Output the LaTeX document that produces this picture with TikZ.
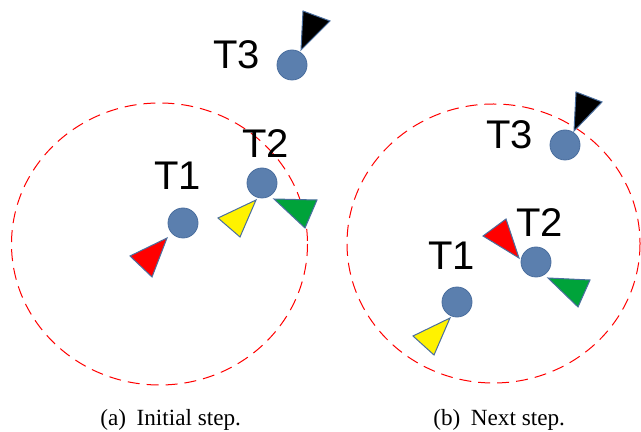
\documentclass[tikz,border=0pt]{standalone}
\usepackage{fontspec}
\setmainfont{Liberation Serif}
\newfontfamily\labfont{Liberation Sans}
\begin{document}
\begin{tikzpicture}[x=0.5pt,y=-0.5pt,
  agent/.style={circle,fill=agentblue,draw=agentedge,line width=0.4pt,minimum size=15pt,inner sep=0pt},
  lab/.style={anchor=base west,inner sep=0pt,font=\labfont\fontsize{20pt}{20pt}\selectfont},
  tri/.style={draw=agentedge,line width=0.5pt,line join=miter},
  rangeline/.style={draw=red,dash pattern=on 6pt off 3.5pt,line width=0.5pt},
  captext/.style={anchor=base west,inner sep=0pt,font=\fontsize{11.6pt}{12pt}\selectfont}]
\definecolor{agentblue}{HTML}{5B7FAE}
\definecolor{agentedge}{HTML}{4A6E9E}
\definecolor{greentri}{HTML}{00A33A}
\useasboundingbox (0,0) rectangle (641,432);
% ---------- (a) ----------
\draw[rangeline] (159.5,244) ellipse [x radius=148, y radius=141];
\node[agent] (a1) at (183,223) {};
\node[agent] (a2) at (262,183) {};
\node[agent] (a3) at (292,65) {};
\node[lab] (la1) at (154,190) {T1};
\node[lab] (la2) at (242,158) {T2};
\node[lab] (la3) at (213,69) {T3};
\draw[tri,fill=red] (167,238) -- (130,256) -- (152,277) -- cycle;
\draw[tri,fill=yellow] (256,200) -- (218,218) -- (240,237) -- cycle;
\draw[tri,fill=greentri] (274,199) -- (317,200) -- (305,228) -- cycle;
\draw[tri,fill=black] (301,50) -- (303,11) -- (330,21) -- cycle;
\node[captext] (ca) at (100,425) {(a)\hspace{0.45em}Initial step.};
% ---------- (b) ----------
\draw[rangeline] (493.5,243.5) ellipse [x radius=146.5, y radius=139.5];
\node[agent] (b1) at (457,302) {};
\node[agent] (b2) at (536,262) {};
\node[agent] (b3) at (565,145) {};
\node[lab] (lb1) at (428,270) {T1};
\node[lab] (lb2) at (516,237) {T2};
\node[lab] (lb3) at (486,149) {T3};
\draw[tri,fill=red] (519,258) -- (483,236) -- (506,219) -- cycle;
\draw[tri,fill=greentri] (548,278) -- (590,280) -- (578,307) -- cycle;
\draw[tri,fill=yellow] (450,318) -- (413,336) -- (434,355) -- cycle;
\draw[tri,fill=black] (574,131) -- (576,92) -- (602,102) -- cycle;
\node[captext] (cb) at (433,425) {(b)\hspace{0.45em}Next step.};
\end{tikzpicture}
\end{document}
